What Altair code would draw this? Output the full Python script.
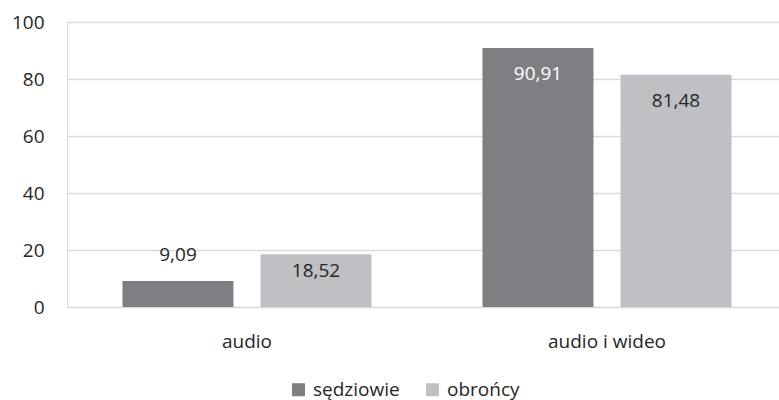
import altair as alt
import pandas as pd

# Categories, series and values
categories = ["audio", "audio i wideo"]
series = ["sędziowie", "obrońcy"]
sedziowie = [9.09, 90.91]
obroncy = [18.52, 81.48]
labels_sedziowie = ["9,09", "90,91"]
labels_obroncy = ["18,52", "81,48"]
y_ticks = [0, 20, 40, 60, 80, 100]

rows = []
for i, cat in enumerate(categories):
    rows.append({"kategoria": cat, "grupa": series[0], "wartosc": sedziowie[i], "etykieta": labels_sedziowie[i]})
    rows.append({"kategoria": cat, "grupa": series[1], "wartosc": obroncy[i], "etykieta": labels_obroncy[i]})
df = pd.DataFrame(rows)

FONT = "Open Sans"
TEXT = "#262626"
DARK = "#7f7f83"
LIGHT = "#bfc0c4"

x_enc = alt.X(
    "kategoria:N",
    sort=categories,
    scale=alt.Scale(range=[0, 720], paddingInner=0, paddingOuter=0),
    axis=alt.Axis(
        title=None, domain=False, ticks=False, labelAngle=0,
        labelFont=FONT, labelFontSize=19, labelColor=TEXT, labelPadding=25,
        grid=False,
    ),
)
xoff_enc = alt.XOffset(
    "grupa:N", sort=series,
    scale=alt.Scale(paddingInner=0.196, paddingOuter=0.402),
)
y_enc = alt.Y(
    "wartosc:Q",
    scale=alt.Scale(domain=[0, 100], nice=False),
    axis=alt.Axis(
        title=None, values=y_ticks, domain=False, ticks=False,
        labelFont=FONT, labelFontSize=19, labelColor=TEXT, labelPadding=23,
        gridColor="#d9d9d9", gridWidth=1.5,
    ),
)

bars = alt.Chart(df).mark_bar().encode(
    x=x_enc,
    xOffset=xoff_enc,
    y=y_enc,
    color=alt.Color(
        "grupa:N",
        sort=series,
        scale=alt.Scale(domain=series, range=[DARK, LIGHT]),
        legend=alt.Legend(
            title=None, orient="none", direction="horizontal",
            legendX=222, legendY=358,
            symbolType="square", symbolSize=169, symbolStrokeWidth=0,
            labelFont=FONT, labelFontSize=19, labelColor=TEXT,
            labelOffset=5, columnPadding=23, padding=0,
        ),
    ),
)


def value_labels(condition, dy):
    # Value labels for the bars selected by `condition`, shifted by dy pixels
    return alt.Chart(df).transform_filter(condition).mark_text(
        font=FONT, fontSize=19, baseline="middle", dy=dy
    ).encode(
        x=alt.X("kategoria:N", sort=categories),
        xOffset=alt.XOffset("grupa:N", sort=series),
        y=alt.Y("wartosc:Q"),
        text="etykieta:N",
        color=alt.condition(
            "datum.grupa == 'sędziowie'",
            alt.value("#ffffff"),
            alt.value(TEXT),
        ) if dy > 0 else alt.value(TEXT),
    )


# Short bars carry the label above them, taller ones just inside the top
outside = value_labels("datum.wartosc <= 12", -26)
inside_short = value_labels("datum.wartosc > 12 && datum.wartosc < 30", 17)
inside_tall = value_labels("datum.wartosc >= 30", 26)

chart = alt.layer(bars, outside, inside_short, inside_tall).properties(
    width=712,
    height=285,
    autosize=alt.AutoSizeParams(type="none"),
    padding={"left": 67, "top": 22, "right": 0, "bottom": 93},
).configure_view(strokeWidth=0).configure(background="white")

chart.save("out.html", embed_options={"renderer": "svg", "actions": False})
